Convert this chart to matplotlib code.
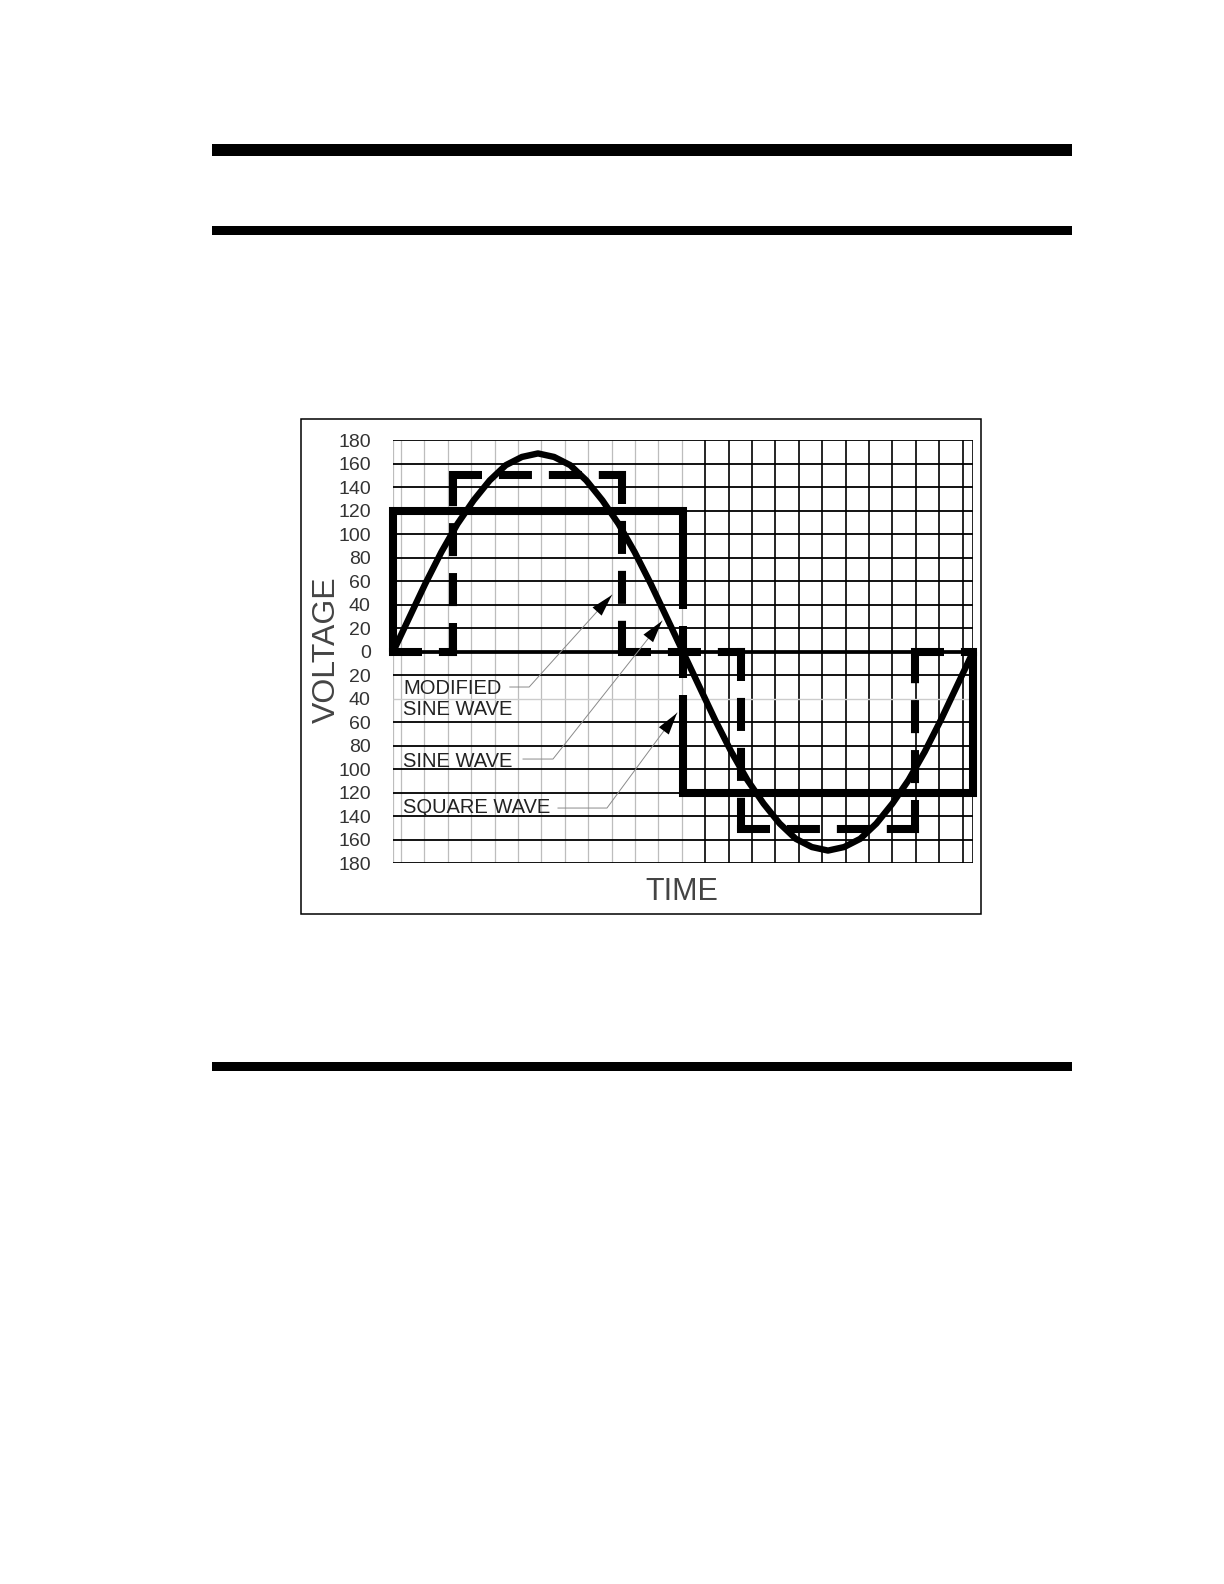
import matplotlib
matplotlib.use("Agg")
import matplotlib.pyplot as plt
import numpy as np
from matplotlib.patches import Rectangle

plt.rcParams['font.family'] = ['Liberation Sans', 'DejaVu Sans']

# ---- data (time in degrees, voltage in volts) ----
volt_ticks = [-180, -160, -140, -120, -100, -80, -60, -40, -20, 0,
              20, 40, 60, 80, 100, 120, 140, 160, 180]
volt_labels = [str(abs(v)) for v in volt_ticks]

sine_t = list(range(0, 361, 10))
sine_v = [0, 29, 58, 85, 109, 129, 146, 159, 166, 169, 166, 159, 146, 129, 109, 85, 58, 29,
          0, -29, -58, -85, -109, -129, -146, -159, -166, -169, -166, -159, -146, -129, -109, -85, -58, -29, 0]

# square wave, drawn in three pieces (the middle riser is broken near zero)
square_pieces_t = [[0, 0, 180, 180], [180, 180], [180, 180, 360, 360]]
square_pieces_v = [[0, 120, 120, 37], [22, -22], [-37, -120, -120, 0]]

mod_t = [0, 37, 37, 142, 142, 216, 216, 324, 324, 360]
mod_v = [0, 0, 151, 151, 0, 0, -151, -151, 0, 0]

# callouts: label text, baseline voltage, leader polyline (last point = arrow tip)
callout_x = 6.2
callouts = [
    (["MODIFIED", "SINE WAVE"], [-35.7, -53.6], [72.5, 84.5, 135.9], [-29.8, -29.8, 48.5]),
    (["SINE WAVE"], [-97.9], [80.7, 99.3, 167.0], [-91.1, -91.1, 26.4]),
    (["SQUARE WAVE"], [-137.0], [102.4, 132.8, 176.3], [-132.8, -132.8, -51.9]),
]

W, H = 1224, 1584


def fx(px):
    return px / W


def fy(py):
    return 1 - py / H


fig = plt.figure(figsize=(W / 100, H / 100), dpi=100)

# page rules
for yc, thick in [(150, 12), (230.5, 9.5), (1066.5, 9)]:
    fig.add_artist(Rectangle((fx(212), fy(yc + thick / 2)), (1072 - 212) / W, thick / H,
                             transform=fig.transFigure, color='black', lw=0))

# figure frame
fig.add_artist(Rectangle((fx(301), fy(914)), (981 - 301) / W, (914 - 419) / H,
                         transform=fig.transFigure, fill=False, ec='black', lw=1.1))

ax = fig.add_axes([fx(393), fy(863.5), 580 / W, 423 / H])
ax.set_xlim(0, 360)
ax.set_ylim(-180, 180)
for s in ax.spines.values():
    s.set_visible(False)

# grid: left part light gray, right part black
vgrid = np.linspace(5, 353.5, 25)
ax.vlines([0] + list(vgrid[:13]), -180, 180, colors='#bdbdbd', lw=0.9, zorder=1)
ax.vlines(list(vgrid[13:]) + [360], -180, 180, colors='black', lw=1.2, zorder=1)
for v in volt_ticks:
    if v == 0:
        ax.hlines(v, 0, 360, colors='black', lw=2.7, zorder=2)
    elif v == -40:
        ax.hlines(v, 0, 360, colors='#cccccc', lw=1.0, zorder=2)
    else:
        ax.hlines(v, 0, 360, colors='black', lw=1.3, zorder=2)

ax.set_xticks([])
ax.set_yticks(volt_ticks)
ax.set_yticklabels(volt_labels, fontsize=14, color='#333333')
ax.tick_params(axis='y', length=0, pad=16)

# waves
for pt, pv in zip(square_pieces_t, square_pieces_v):
    ax.plot(pt, pv, color='black', lw=5.8, solid_joinstyle='miter',
            solid_capstyle='butt', clip_on=False, zorder=4)
# modified sine: each leg dashed on its own so every corner starts with a dash
for i in range(len(mod_t) - 1):
    ax.plot(mod_t[i:i + 2], mod_v[i:i + 2], color='black', lw=5.8,
            linestyle=(0, (3.1, 3.1)), dash_capstyle='projecting',
            clip_on=False, zorder=4)
ax.plot(sine_t, sine_v, color='black', lw=4.6, solid_joinstyle='round',
        solid_capstyle='round', clip_on=False, zorder=5)

# callouts
for lines, bases, lt, lv in callouts:
    for txt, b in zip(lines, bases):
        ax.text(callout_x, b, txt, fontsize=14.5, color='#222222', ha='left', va='baseline', zorder=6)
    ax.plot(lt, lv, color='#8a8a8a', lw=0.7, zorder=6)
    ax.annotate('', xy=(lt[-1], lv[-1]), xytext=(lt[-2], lv[-2]),
                arrowprops=dict(arrowstyle='-|>,head_length=0.8,head_width=0.22',
                                mutation_scale=20, lw=0, color='black',
                                shrinkA=0, shrinkB=0), zorder=7)

fig.text(fx(327), fy(650), "VOLTAGE", rotation=90, fontsize=23, color='#444444',
         ha='center', va='center')
fig.text(fx(681.5), fy(891.5), "TIME", fontsize=22, color='#444444',
         ha='center', va='center')

fig.savefig("out.png", dpi=100)
